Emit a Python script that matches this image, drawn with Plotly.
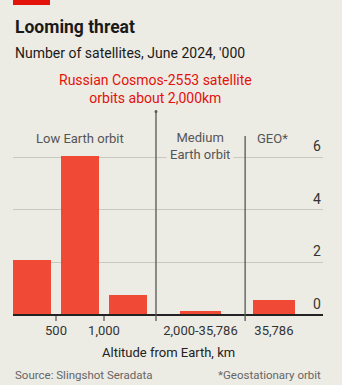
import plotly.graph_objects as go

# ---- data ----
categories = ["0-500", "500-1,000", "1,000-2,000", "2,000-35,786", "35,786"]
satellites_k = [2.1, 6.05, 0.76, 0.15, 0.58]
y_ticks = [0, 2, 4, 6]
x_tick_labels = ["500", "1,000", "2,000-35,786", "35,786"]
region_labels = ["Low Earth orbit", "Medium<br>Earth orbit", "GEO*"]

# ---- layout positions (axis units: 1 unit = 500km in LEO section) ----
bar_x = [0.5, 1.5, 2.5, 4.01, 5.54]
bar_w = [0.81, 0.81, 0.81, 0.85, 0.87]
tick_x = [1, 2, 4.01, 5.54]
tick_marks = [1, 2]
dividers = [3.083, 4.94]
x_range = [0.104, 6.5625]
y_min, y_max = -0.23, 7.75

BG = "#ecebe4"
RED = "#f04a36"
W, H = 342, 385
TOP, BOTTOM, LEFT, RIGHT = 111, 64, 13, 19
PH = H - TOP - BOTTOM
PW = W - LEFT - RIGHT


def py(pixel_y):
    """page pixel y (from top) -> paper coordinate"""
    return (H - BOTTOM - pixel_y) / PH


def px(pixel_x):
    return (pixel_x - LEFT) / PW


fig = go.Figure()
fig.add_trace(go.Bar(
    x=bar_x, y=satellites_k, width=bar_w, marker_color=RED,
    marker_line_width=0, hovertext=categories, showlegend=False,
))

shapes = [
    # red tag at top
    dict(type="rect", xref="paper", yref="paper", x0=px(13), x1=px(50), y0=py(5), y1=py(0),
         fillcolor="#e3120b", line=dict(width=0)),
    # baseline
    dict(type="line", xref="paper", yref="y", x0=0, x1=1, y0=0, y1=0,
         line=dict(color="#222", width=2)),
    # dividers
    dict(type="line", xref="x", yref="paper", x0=dividers[0], x1=dividers[0],
         y0=0, y1=1, line=dict(color="#555", width=1.3)),
    dict(type="line", xref="x", yref="y", x0=dividers[1], x1=dividers[1],
         y0=y_min, y1=6.8, line=dict(color="#555", width=1.3)),
    dict(type="circle", xref="x", yref="paper", x0=dividers[0] - 0.03,
         x1=dividers[0] + 0.03, y0=0.99, y1=1.005,
         fillcolor="#555", line=dict(width=0)),
]
for t in tick_marks:
    shapes.append(dict(type="line", xref="x", yref="y", x0=t, x1=t, y0=0, y1=y_min,
                       line=dict(color="#333", width=1)))

FONT = "Roboto"
annotations = []
for v in y_ticks:
    annotations.append(dict(x=1, xref="paper", xanchor="right", y=v, yref="y",
                            yanchor="bottom", yshift=1, text=str(v), showarrow=False,
                            font=dict(size=14, color="#333", family=FONT)))
annotations += [
    dict(x=1.5, xref="x", y=6.7, yref="y", yanchor="middle", text=region_labels[0],
         showarrow=False, font=dict(size=13, color="#555", family=FONT)),
    dict(x=4.01, xref="x", y=6.42, yref="y", yanchor="middle", text=region_labels[1],
         showarrow=False, bgcolor=BG, borderpad=3,
         font=dict(size=13, color="#555", family=FONT)),
    dict(x=5.5, xref="x", y=6.7, yref="y", yanchor="middle", text=region_labels[2],
         showarrow=False, font=dict(size=13, color="#555", family=FONT)),
    dict(x=0, xref="paper", xanchor="left", y=py(27), yref="paper", yanchor="middle",
         text="<b>Looming threat</b>", showarrow=False,
         font=dict(size=17.5, color="#1a1a1a", family=FONT)),
    dict(x=0, xref="paper", xanchor="left", y=py(53), yref="paper", yanchor="middle",
         text="Number of satellites, June 2024, '000", showarrow=False,
         font=dict(size=14, color="#1a1a1a", family=FONT)),
    dict(x=dividers[0], xref="x", y=py(89), yref="paper", yanchor="middle",
         text="Russian Cosmos-2553 satellite<br>orbits about 2,000km", showarrow=False,
         font=dict(size=14, color="#e3120b", family=FONT)),
    dict(x=0.5, xref="paper", y=py(352), yref="paper", yanchor="middle",
         text="Altitude from Earth, km",
         showarrow=False, font=dict(size=13, color="#222", family=FONT)),
    dict(x=0, xref="paper", xanchor="left", y=py(375), yref="paper", yanchor="middle",
         text="Source: Slingshot Seradata", showarrow=False,
         font=dict(size=11.5, color="#666", family=FONT)),
    dict(x=1, xref="paper", xanchor="right", y=py(375), yref="paper", yanchor="middle",
         text="*Geostationary orbit", showarrow=False,
         font=dict(size=11.5, color="#666", family=FONT)),
]

fig.update_layout(
    width=W, height=H,
    margin=dict(l=LEFT, r=RIGHT, t=TOP, b=BOTTOM),
    paper_bgcolor=BG, plot_bgcolor=BG,
    bargap=0,
    shapes=shapes,
    annotations=annotations,
    xaxis=dict(range=x_range, tickvals=tick_x, ticktext=x_tick_labels, ticks="",
               showgrid=False, zeroline=False, showline=False,
               tickfont=dict(size=13, color="#333", family=FONT)),
    yaxis=dict(range=[y_min, y_max], tickvals=y_ticks[1:], showticklabels=False,
               showgrid=True, gridcolor="#c9c8c0", gridwidth=1, zeroline=False),
)

fig.write_html("out.html")
